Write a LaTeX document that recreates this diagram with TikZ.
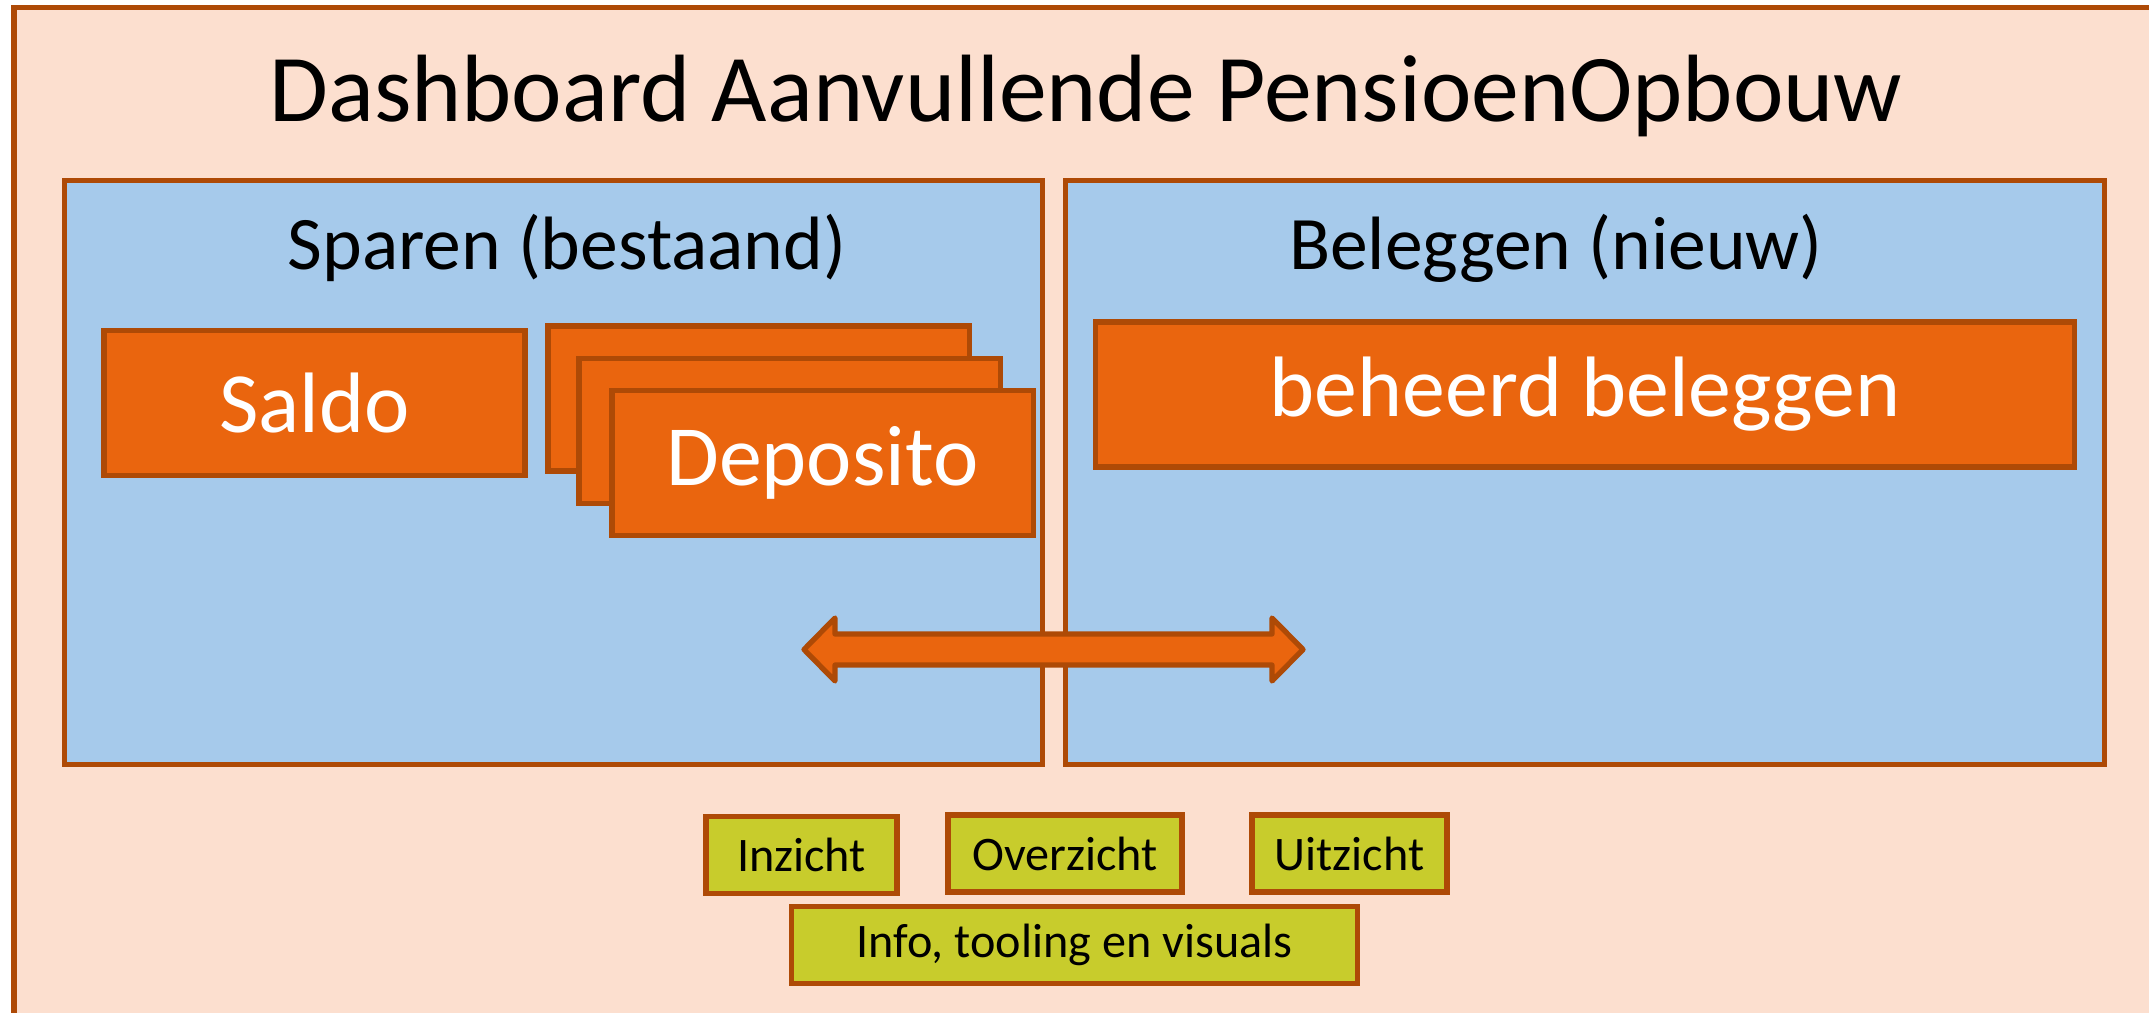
\documentclass[tikz,border=0pt]{standalone}
\usepackage{fontspec}
\setmainfont{Carlito}
\usetikzlibrary{positioning}

\definecolor{peach}{RGB}{252,223,207}
\definecolor{rim}{RGB}{174,74,6}
\definecolor{sky}{RGB}{166,202,235}
\definecolor{carrot}{RGB}{234,101,14}
\definecolor{lime}{RGB}{200,204,44}

\begin{document}
\begin{tikzpicture}[x=0.01cm, y=-0.01cm, line width=1.5pt,
  panel/.style={rectangle, draw=rim, fill=sky, minimum width=#1, minimum height=5.83cm},
  block/.style={rectangle, draw=rim, fill=carrot, text=white, font=\fontsize{24.4}{28}\selectfont, minimum width=#1, minimum height=1.45cm},
  tag/.style={rectangle, draw=rim, fill=lime, font=\fontsize{13.7}{16}\selectfont, minimum width=#1, minimum height=0.77cm},
  header/.style={anchor=base, font=\fontsize{21.5}{25}\selectfont}]
\useasboundingbox (0,0) rectangle (2149,1012);
\draw[draw=rim, fill=peach] (14,7.5) rectangle (2200,1060);
\node [anchor=base, font=\fontsize{27.2}{32}\selectfont] (title) at (1086,121) {Dashboard Aanvullende PensioenOpbouw};

\node [panel=9.77cm] (sparen) at (553.5,472.5) {};
\node [panel=10.38cm] (beleggen) at (1585,472.5) {};
\node [header] (sparenkop) at (567,269) {Sparen (bestaand)};
\node [header] (beleggenkop) at (1556,269) {Beleggen (nieuw)};

\node [block=4.21cm] (saldo) at (314.5,403) {Saldo};
\node [block=4.21cm] (depo1) at (758.5,398.5) {};
\node [block=4.21cm] (depo2) at (789.5,431) {};
\node [block=4.21cm] (depo3) at (822.5,463) {Deposito};
\node [block=9.78cm] (beheerd) at (1585,394.5) {beheerd beleggen};

\draw[draw=rim, fill=carrot, line join=round] (804,649.5) -- (835,618) -- (835,634) -- (1272,634) -- (1272,618) -- (1303,649.5)
  -- (1272,681) -- (1272,665) -- (835,665) -- (835,681) -- cycle;

\node [tag=1.91cm] (inzicht) at (801.5,855) {Inzicht};
\node [tag=2.34cm] (overzicht) at (1065,853.5) {Overzicht};
\node [tag=1.95cm] (uitzicht) at (1349.5,853.5) {Uitzicht};
\node [tag=5.65cm] (info) at (1074.5,945) {Info, tooling en visuals};
\end{tikzpicture}
\end{document}
